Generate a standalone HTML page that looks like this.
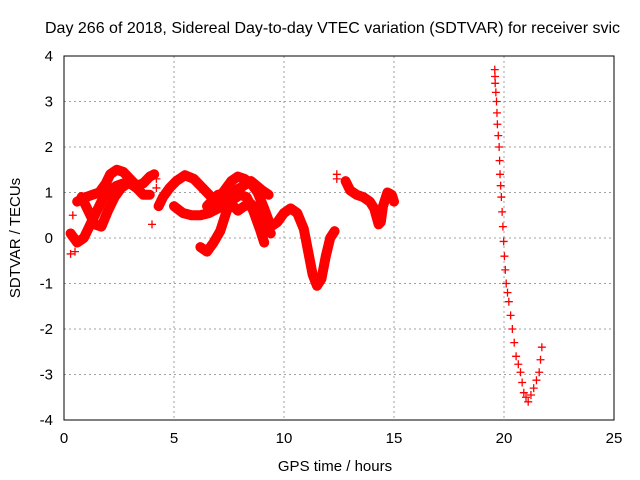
<!DOCTYPE html>
<html><head><meta charset="utf-8"><style>
body{margin:0;background:#fff}
svg{display:block;font-family:"Liberation Sans",sans-serif}
</style></head><body>
<svg id="chart" width="640" height="480">
<text x="45" y="33" font-size="16" fill="#000">Day 266 of 2018, Sidereal Day-to-day VTEC variation (SDTVAR) for receiver svic</text>
<g id="grid"></g><g id="ticks"></g><g id="series"></g>
<rect x="64" y="56" width="550" height="364" fill="none" stroke="#000" stroke-width="1"/>
<text x="335" y="471" font-size="15" text-anchor="middle">GPS time / hours</text>
<text transform="translate(20,238) rotate(-90)" font-size="15" text-anchor="middle">SDTVAR / TECUs</text>
</svg>
<script>
const xTicks=[0,5,10,15,20,25];
const yTicks=[-4,-3,-2,-1,0,1,2,3,4];
const s1T=[0.6,1.0,1.3,1.6,1.9,2.1,2.4,2.7,3.0,3.3,3.6,3.9,4.1];
const s1V=[0.8,0.9,0.95,1.0,1.2,1.4,1.5,1.45,1.3,1.15,1.2,1.35,1.4];
const s2T=[0.3,0.6,0.9,1.2,1.5,1.8,2.1,2.4,2.7,3.0,3.3,3.6,3.9];
const s2V=[0.1,-0.1,0.0,0.3,0.6,0.9,1.05,1.15,1.2,1.2,1.1,0.95,0.95];
const s3T=[0.8,1.1,1.4,1.7,2.0,2.3,2.6,2.9,3.2];
const s3V=[0.9,0.6,0.3,0.25,0.6,0.9,1.1,1.2,1.2];
const s4T=[4.3,4.5,4.8,5.1,5.5,5.9,6.3,6.7,7.0,7.3,7.6,7.9,8.2,8.5,8.8,9.1,9.4,9.7,10.0,10.3,10.6,10.9,11.1,11.3,11.5,11.7,11.9,12.1,12.3];
const s4V=[0.7,0.9,1.1,1.25,1.38,1.3,1.1,0.9,0.85,1.05,1.25,1.35,1.3,1.2,1.0,0.65,0.25,0.35,0.55,0.65,0.55,0.2,-0.3,-0.8,-1.05,-0.9,-0.4,0.0,0.15];
const s5T=[5.0,5.4,5.8,6.2,6.6,7.0,7.3,7.6,7.9,8.2,8.5,8.8,9.1,9.4];
const s5V=[0.7,0.55,0.5,0.5,0.55,0.65,0.85,0.75,0.6,0.7,0.75,0.6,0.3,0.1];
const s6T=[6.2,6.5,6.8,7.1,7.4,7.7,8.0,8.3,8.6,8.9,9.1];
const s6V=[-0.2,-0.3,-0.1,0.15,0.6,0.85,0.95,0.9,0.6,0.2,-0.1];
const s7T=[6.5,7.0,7.5,8.0,8.5,9.0,9.3];
const s7V=[0.7,0.95,1.0,1.1,1.25,1.05,0.95];
const s8T=[12.8,13.0,13.3,13.6,13.9,14.1,14.3,14.4,14.5,14.7,14.9,15.0];
const s8V=[1.25,1.05,0.95,0.9,0.8,0.65,0.3,0.35,0.7,1.0,0.95,0.8];
const s9T=[19.58,19.6,19.66,19.7,19.78,19.82,19.88,19.95,20.02,20.1,20.22,20.38,20.55,20.75,20.9,21.1,21.35,21.6,21.72];
const s9V=[3.7,3.4,3.0,2.5,2.0,1.4,0.9,0.25,-0.4,-1.0,-1.4,-2.0,-2.6,-2.95,-3.4,-3.6,-3.3,-2.95,-2.4];
const strayT=[0.3,0.5,0.4,4.0,4.2,4.2,12.4,12.4];
const strayV=[-0.35,-0.3,0.5,0.3,1.1,1.3,1.3,1.4];
const NS="http://www.w3.org/2000/svg";
const X=t=>64+t*22, Y=v=>238-v*45.5;
const grid=document.getElementById('grid'),ticks=document.getElementById('ticks'),ser=document.getElementById('series');
function mk(tag,attrs,parent){const e=document.createElementNS(NS,tag);for(const k in attrs)e.setAttribute(k,attrs[k]);parent.appendChild(e);return e;}
xTicks.forEach(t=>{
 if(t>0&&t<25){const g=mk('line',{x1:X(t),x2:X(t),y1:56,y2:420,stroke:'#a0a0a0','stroke-dasharray':'2,3'},grid);
 
 }
 const l=mk('text',{x:X(t),y:443,'font-size':15,'text-anchor':'middle'},ticks);l.textContent=t;
 
 
});
yTicks.forEach(v=>{
 if(v>-4&&v<4){const g=mk('line',{x1:64,x2:614,y1:Y(v),y2:Y(v),stroke:'#a0a0a0','stroke-dasharray':'2,3'},grid);
 
 }
 const l=mk('text',{x:53,y:Y(v)+5,'font-size':15,'text-anchor':'end'},ticks);l.textContent=v;
 
 
});
function series(T,V,band,name){
 const g=mk('g',{},ser);
 
 
 if(band){const pl=mk('polyline',{points:T.map((t,i)=>X(t)+','+Y(V[i])).join(' '),fill:'none',stroke:'#f00','stroke-width':10,'stroke-linejoin':'round','stroke-linecap':'round'},g);
 
 }
 T.forEach((t,i)=>{const x=X(t),y=Y(V[i]);
  const p=mk('path',{d:`M${x-4},${y}H${x+4}M${x},${y-4}V${y+4}`,stroke:'#f00','stroke-width':1.3},g);
  
  });
}
series(s1T,s1V,true,'track-1');series(s2T,s2V,true,'track-2');series(s3T,s3V,true,'track-3');
series(s4T,s4V,true,'track-4');series(s5T,s5V,true,'track-5');series(s6T,s6V,true,'track-6');
series(s7T,s7V,true,'track-7');series(s8T,s8V,true,'track-8');
series(s9T,s9V,false,'track-9');
const s9b=[];for(let i=0;i<s9T.length-1;i++){s9b.push([(s9T[i]+s9T[i+1])/2,(s9V[i]+s9V[i+1])/2]);}
series(s9b.map(a=>a[0]),s9b.map(a=>a[1]),false,'track-9-mid');
series(strayT,strayV,false,'stray-points');
</script>
</body></html>
